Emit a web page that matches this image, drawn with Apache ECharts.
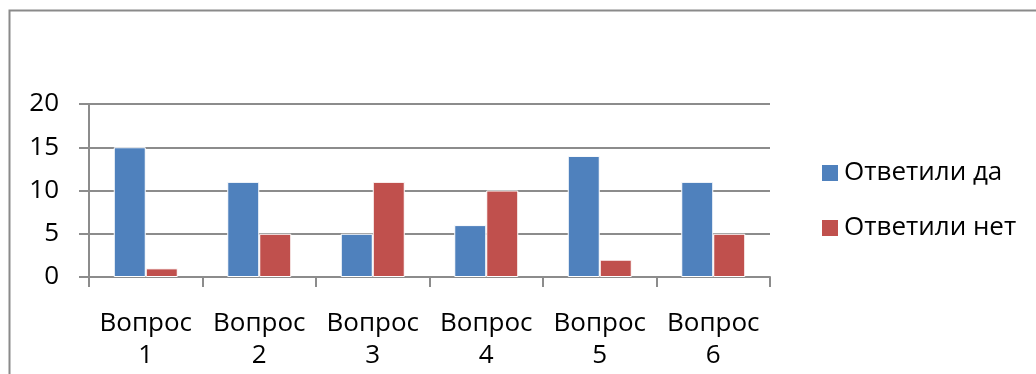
<!DOCTYPE html>
<html>
<head>
<meta charset="utf-8">
<script src="https://cdn.jsdelivr.net/npm/echarts@6/dist/echarts.min.js"></script>
<style>
  html, body { margin: 0; padding: 0; background: #fff; }
  #chart { width: 1036px; height: 374px; }
</style>
</head>
<body>
<div id="chart"></div>
<script>
// Survey answers per question
const categories = ['Вопрос\n1', 'Вопрос\n2', 'Вопрос\n3', 'Вопрос\n4', 'Вопрос\n5', 'Вопрос\n6'];
const seriesNames = ['Ответили да', 'Ответили нет'];
const yesValues = [15, 11, 5, 6, 14, 11];
const noValues = [1, 5, 11, 10, 2, 5];

const FONT = '"Open Sans", sans-serif';
const FONT_SIZE = 26;
const GRID_COLOR = '#8c8c8c';

const chart = echarts.init(document.getElementById('chart'), null, { renderer: 'canvas' });

chart.setOption({
  backgroundColor: '#fff',
  animation: false,
  textStyle: { fontFamily: FONT },
  graphic: [{
    type: 'rect',
    shape: { x: 9.5, y: 10.5, width: 1100, height: 400 },
    style: { fill: 'none', stroke: '#8a8a8a', lineWidth: 2 },
    silent: true
  }],
  grid: { left: 89, top: 104, right: 266, bottom: 97, containLabel: false },
  legend: {
    orient: 'vertical',
    left: 815,
    top: 155,
    itemWidth: 18,
    itemHeight: 18,
    itemGap: 29,
    icon: 'rect',
    data: seriesNames,
    textStyle: { fontFamily: FONT, fontSize: FONT_SIZE, color: '#000', lineHeight: 26, padding: [0, 0, 0, 0] }
  },
  xAxis: {
    type: 'category',
    data: categories,
    axisLine: { lineStyle: { color: GRID_COLOR, width: 2 } },
    axisTick: { show: true, length: 10, lineStyle: { color: GRID_COLOR, width: 2 } },
    axisLabel: {
      interval: 0,
      margin: 31,
      fontFamily: FONT,
      fontSize: FONT_SIZE,
      lineHeight: 32,
      color: '#000'
    },
    splitLine: { show: false }
  },
  yAxis: {
    type: 'value',
    min: 0,
    max: 20,
    interval: 5,
    axisLine: { show: true, lineStyle: { color: GRID_COLOR, width: 2 } },
    axisTick: { show: true, length: 10, lineStyle: { color: GRID_COLOR, width: 2 } },
    axisLabel: { margin: 30, fontFamily: FONT, fontSize: FONT_SIZE, color: '#000' },
    splitLine: { show: true, lineStyle: { color: GRID_COLOR, width: 2 } }
  },
  series: [
    {
      name: seriesNames[0],
      type: 'bar',
      data: yesValues,
      barWidth: 32,
      barGap: '0%',
      itemStyle: { color: '#4F81BD', borderColor: '#ffffff', borderWidth: 1 }
    },
    {
      name: seriesNames[1],
      type: 'bar',
      data: noValues,
      barWidth: 32,
      barGap: '0%',
      itemStyle: { color: '#C0504D', borderColor: '#ffffff', borderWidth: 1 }
    }
  ]
});
</script>
</body>
</html>
